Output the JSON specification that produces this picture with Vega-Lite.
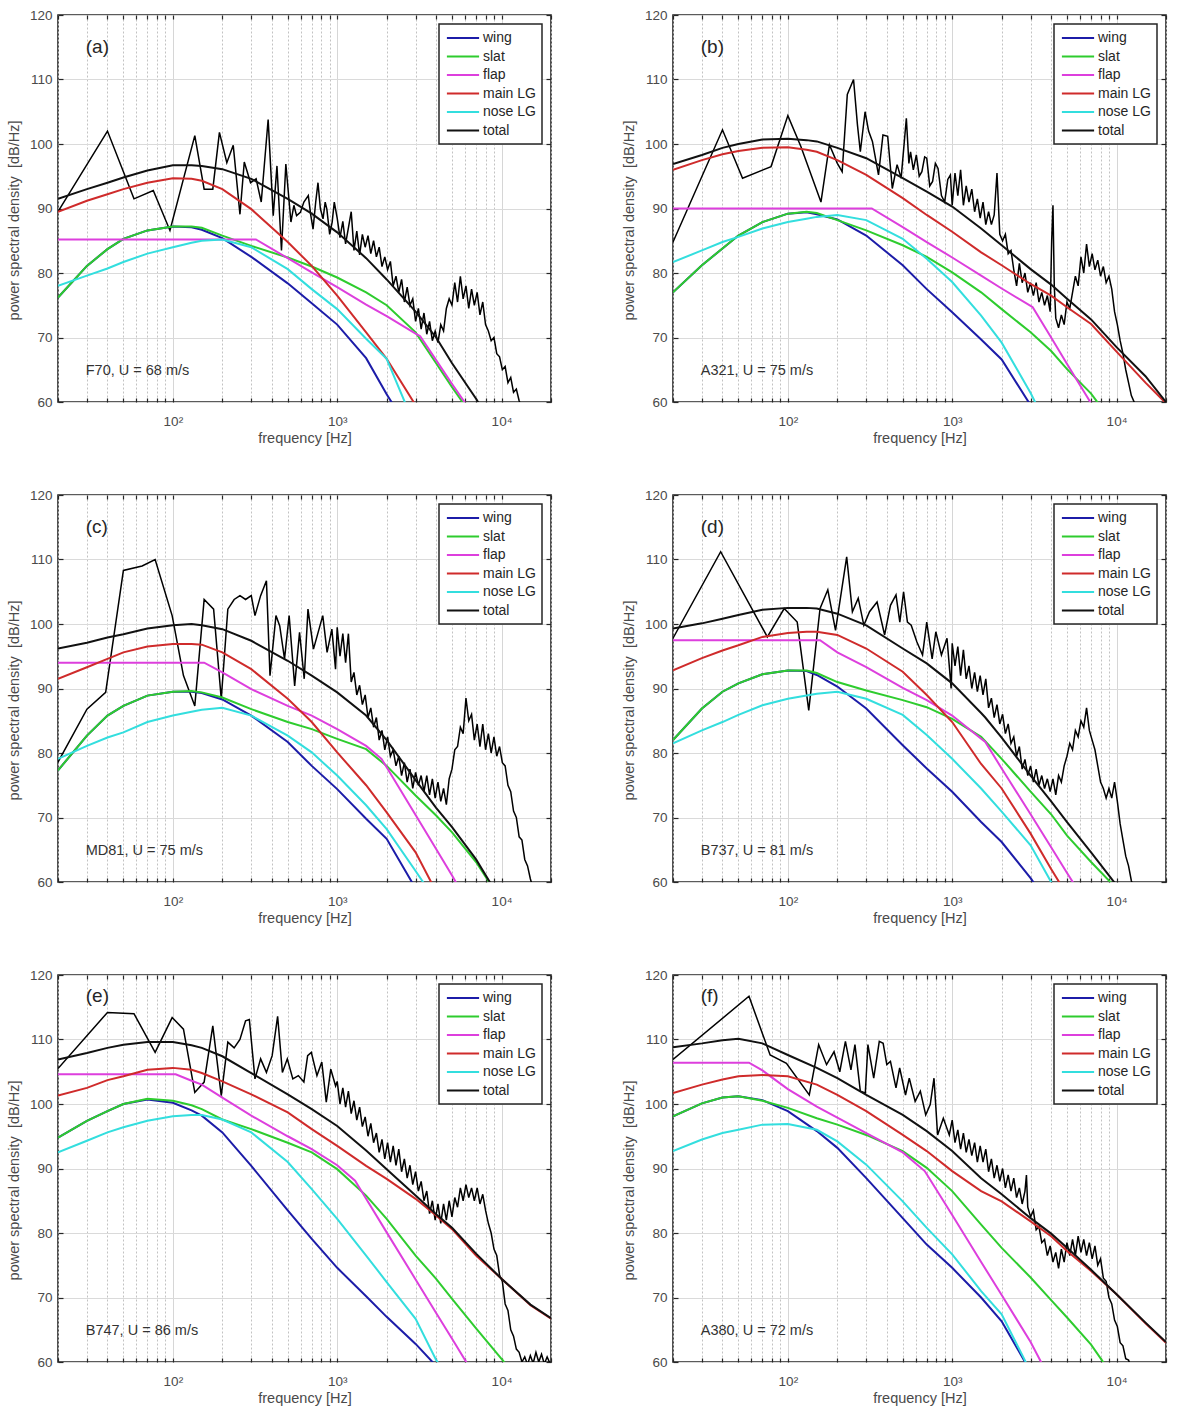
{
"$schema":"https://vega.github.io/schema/vega-lite/v6.json",
"padding":{"left":5,"top":7,"right":5,"bottom":5},
"background":"white",
"config":{
 "font":"Liberation Sans",
 "view":{"stroke":"#262626","strokeWidth":1.6},
 "axis":{"labelFont":"Liberation Sans","labelFontSize":13.5,"labelColor":"#4a4a4a","titleFont":"Liberation Sans","titleFontSize":14.5,"titleColor":"#4a4a4a","titleFontWeight":"normal","domain":false,"ticks":true,"tickColor":"#262626","tickWidth":1.2,"gridColor":"#dadada","gridWidth":1},
 "legend":{"orient":"top-right","offset":9,"strokeColor":"#262626","strokeWidth":1.5,"fillColor":"white","padding":6,"symbolType":"M-2.3,0H2.3","symbolSize":196,"symbolStrokeWidth":2,"symbolOffset":10,"labelOffset":12,"labelFont":"Liberation Sans","labelFontSize":14,"labelColor":"#262626","rowPadding":3.5,"titlePadding":0}
},
"datasets":{
"ma":[
{"f":20,"wing":76.2,"slat":76.2,"flap":85.2,"main LG":89.5,"nose LG":78,"total":91.5},
{"f":30,"wing":81.1,"slat":81.1,"flap":85.2,"main LG":91.2,"nose LG":79.6,"total":93},
{"f":40,"wing":83.7,"slat":83.7,"flap":85.2,"main LG":92.2,"nose LG":80.7,"total":94},
{"f":50,"wing":85.3,"slat":85.3,"flap":85.2,"main LG":93,"nose LG":81.7,"total":94.8},
{"f":70,"wing":86.6,"slat":86.6,"flap":85.2,"main LG":94,"nose LG":83,"total":95.9},
{"f":100,"wing":87.2,"slat":87.2,"flap":85.2,"main LG":94.7,"nose LG":84,"total":96.7},
{"f":130,"wing":87.1,"slat":87.2,"flap":85.2,"main LG":94.6,"nose LG":84.7,"total":96.7},
{"f":150,"wing":86.7,"slat":87,"flap":85.2,"main LG":94.3,"nose LG":85,"total":96.6},
{"f":200,"wing":85.4,"slat":85.8,"flap":85.2,"main LG":93,"nose LG":85.2,"total":96.1},
{"f":300,"wing":82.5,"slat":84.2,"flap":85.2,"main LG":89.9,"nose LG":84,"total":94.6},
{"f":320,"flap":85.2},
{"f":500,"wing":78.4,"slat":82.4,"flap":82.3,"main LG":84.8,"nose LG":80.6,"total":91.5},
{"f":700,"wing":75.3,"slat":81,"flap":80.1,"main LG":81.1,"nose LG":77.5,"total":89.2},
{"f":1000,"wing":72,"slat":79.3,"flap":77.8,"main LG":76.5,"nose LG":74.4,"total":86.3},
{"f":1500,"wing":66.8,"slat":77,"flap":75.1,"main LG":70.8,"nose LG":69.8,"total":82.3},
{"f":2000,"wing":61.2,"slat":75,"flap":73.3,"main LG":66.7,"nose LG":66.7,"total":79},
{"f":3000,"wing":54,"slat":70.8,"flap":70.6,"main LG":59.5,"nose LG":56,"total":74},
{"f":3200,"flap":70.2},
{"f":4000,"slat":66,"flap":66.5,"main LG":54,"total":70},
{"f":5000,"slat":62.3,"flap":62.8,"total":66},
{"f":7000,"slat":57,"flap":57.4,"total":60.5},
{"f":10000,"total":54}
],
"mb":[
{"f":20,"wing":77,"slat":77,"flap":90,"main LG":96,"nose LG":81.7,"total":96.9},
{"f":30,"wing":81.2,"slat":81.2,"flap":90,"main LG":97.5,"nose LG":83.5,"total":98.3},
{"f":40,"wing":83.8,"slat":83.8,"flap":90,"main LG":98.4,"nose LG":84.8,"total":99.4},
{"f":50,"wing":85.8,"slat":85.8,"flap":90,"main LG":98.9,"nose LG":85.6,"total":100},
{"f":70,"wing":87.9,"slat":87.9,"flap":90,"main LG":99.4,"nose LG":86.9,"total":100.7},
{"f":100,"wing":89.2,"slat":89.2,"flap":90,"main LG":99.5,"nose LG":87.9,"total":100.8},
{"f":130,"wing":89.4,"slat":89.5,"flap":90,"main LG":99.1,"nose LG":88.4,"total":100.6},
{"f":150,"wing":89.1,"slat":89.3,"flap":90,"main LG":98.8,"nose LG":88.7,"total":100.4},
{"f":200,"wing":88.3,"slat":88.2,"flap":90,"main LG":97.5,"nose LG":89,"total":99.4},
{"f":300,"wing":85.8,"slat":86.6,"flap":90,"main LG":95.2,"nose LG":88.2,"total":97.8},
{"f":324,"flap":90},
{"f":500,"wing":81.2,"slat":84.3,"flap":87.1,"main LG":91.6,"nose LG":85.3,"total":94.7},
{"f":700,"wing":77.5,"slat":82.5,"flap":84.8,"main LG":89,"nose LG":82.2,"total":92.6},
{"f":1000,"wing":73.9,"slat":80.1,"flap":82.4,"main LG":86.4,"nose LG":78.6,"total":90.3},
{"f":1500,"wing":69.7,"slat":77,"flap":79.6,"main LG":83.2,"nose LG":73.4,"total":86.9},
{"f":2000,"wing":66.6,"slat":74.4,"flap":77.6,"main LG":81.2,"nose LG":69.2,"total":84.3},
{"f":3000,"wing":59.5,"slat":70.8,"flap":74.9,"main LG":78.3,"nose LG":61.4,"total":80.6},
{"f":3090,"flap":74.7},
{"f":4000,"wing":55,"slat":67.9,"flap":70,"main LG":76.5,"nose LG":55,"total":78.2},
{"f":5000,"slat":65.1,"flap":65.9,"main LG":74.7,"total":76},
{"f":7000,"slat":61.3,"flap":59.8,"main LG":72.1,"total":72.8},
{"f":10000,"slat":56,"flap":53.5,"main LG":67.8,"total":68.5},
{"f":15000,"main LG":63,"total":64},
{"f":20000,"main LG":59.8,"total":60}
],
"mc":[
{"f":20,"wing":77.3,"slat":77.3,"flap":94,"main LG":91.5,"nose LG":79.1,"total":96.2},
{"f":30,"wing":82.7,"slat":82.7,"flap":94,"main LG":93.3,"nose LG":81.1,"total":97.1},
{"f":40,"wing":85.8,"slat":85.8,"flap":94,"main LG":94.6,"nose LG":82.4,"total":97.9},
{"f":50,"wing":87.3,"slat":87.3,"flap":94,"main LG":95.6,"nose LG":83.2,"total":98.4},
{"f":70,"wing":88.9,"slat":88.9,"flap":94,"main LG":96.5,"nose LG":84.8,"total":99.3},
{"f":100,"wing":89.5,"slat":89.5,"flap":94,"main LG":96.9,"nose LG":85.8,"total":99.8},
{"f":130,"wing":89.5,"slat":89.6,"flap":94,"main LG":96.9,"nose LG":86.4,"total":100},
{"f":150,"wing":89.3,"slat":89.4,"flap":94,"main LG":96.8,"nose LG":86.7,"total":99.8},
{"f":155,"flap":94},
{"f":200,"wing":88.3,"slat":88.6,"flap":92.5,"main LG":95.6,"nose LG":87,"total":99.2},
{"f":300,"wing":85.8,"slat":86.8,"flap":89.9,"main LG":93,"nose LG":85.8,"total":97.4},
{"f":500,"wing":81.7,"slat":84.8,"flap":87.3,"main LG":88.4,"nose LG":82.7,"total":94.3},
{"f":700,"wing":78,"slat":83.7,"flap":85.8,"main LG":84.8,"nose LG":80.1,"total":92},
{"f":1000,"wing":74.4,"slat":82.2,"flap":83.7,"main LG":80.1,"nose LG":76.5,"total":89.4},
{"f":1500,"wing":69.8,"slat":80.6,"flap":81.1,"main LG":75,"nose LG":71.9,"total":85.8},
{"f":1860,"flap":79.1},
{"f":2000,"wing":66.7,"slat":78,"flap":77.8,"main LG":70.8,"nose LG":68.2,"total":82},
{"f":3000,"wing":59,"slat":73.4,"flap":70.4,"main LG":64.6,"nose LG":61.7,"total":75.8},
{"f":4000,"wing":55,"slat":70.3,"flap":65.1,"main LG":58.5,"nose LG":57,"total":71.5},
{"f":5000,"slat":67.7,"flap":61,"total":68.5},
{"f":7000,"slat":63.1,"flap":54.5,"total":63.5},
{"f":10000,"slat":57,"total":57}
],
"md":[
{"f":20,"wing":82,"slat":82,"flap":97.5,"main LG":92.8,"nose LG":81.5,"total":99.3},
{"f":30,"wing":86.9,"slat":86.9,"flap":97.5,"main LG":94.7,"nose LG":83.5,"total":100.1},
{"f":40,"wing":89.5,"slat":89.5,"flap":97.5,"main LG":95.9,"nose LG":84.8,"total":100.8},
{"f":50,"wing":90.8,"slat":90.8,"flap":97.5,"main LG":96.7,"nose LG":85.9,"total":101.4},
{"f":70,"wing":92.2,"slat":92.2,"flap":97.5,"main LG":98,"nose LG":87.4,"total":102.2},
{"f":100,"wing":92.8,"slat":92.8,"flap":97.5,"main LG":98.6,"nose LG":88.4,"total":102.5},
{"f":130,"wing":92.7,"slat":92.8,"flap":97.5,"main LG":98.8,"nose LG":88.9,"total":102.5},
{"f":150,"wing":92.1,"slat":92.4,"flap":97.5,"main LG":98.8,"nose LG":89.2,"total":102.4},
{"f":157,"flap":97.5},
{"f":200,"wing":90.3,"slat":91,"flap":95.6,"main LG":98.3,"nose LG":89.5,"total":101.6},
{"f":300,"wing":86.9,"slat":89.7,"flap":93.3,"main LG":96.2,"nose LG":88.4,"total":99.8},
{"f":500,"wing":81.2,"slat":88.2,"flap":90.1,"main LG":92.6,"nose LG":85.9,"total":96.2},
{"f":700,"wing":77.6,"slat":87.1,"flap":88.2,"main LG":89,"nose LG":82.8,"total":93.9},
{"f":1000,"wing":74,"slat":85.3,"flap":85.8,"main LG":84.8,"nose LG":79.1,"total":90.8},
{"f":1500,"wing":69.3,"slat":82.5,"flap":82.2,"main LG":78.3,"nose LG":74.5,"total":86.2},
{"f":1590,"flap":81.7,"total":85.5},
{"f":2000,"wing":66.2,"slat":79.1,"flap":77.6,"main LG":74.5,"nose LG":70.9,"total":82.4},
{"f":3000,"wing":60.6,"slat":74,"flap":70.5,"main LG":67.5,"nose LG":65.7,"total":76.5},
{"f":4000,"wing":56,"slat":70.5,"flap":65.4,"main LG":62,"nose LG":60,"total":72.5},
{"f":5000,"slat":67.2,"flap":61.4,"main LG":58,"nose LG":55,"total":69.3},
{"f":7000,"slat":63.1,"flap":55.5,"total":64.6},
{"f":10000,"slat":59,"total":59.5}
],
"me":[
{"f":20,"wing":94.8,"slat":94.8,"flap":104.6,"main LG":101.3,"nose LG":92.5,"total":106.9},
{"f":30,"wing":97.4,"slat":97.4,"flap":104.6,"main LG":102.5,"nose LG":94.3,"total":107.9},
{"f":40,"wing":98.9,"slat":98.9,"flap":104.6,"main LG":103.7,"nose LG":95.6,"total":108.7},
{"f":50,"wing":100,"slat":100,"flap":104.6,"main LG":104.3,"nose LG":96.4,"total":109.2},
{"f":70,"wing":100.7,"slat":100.8,"flap":104.6,"main LG":105.3,"nose LG":97.4,"total":109.6},
{"f":100,"wing":100.2,"slat":100.5,"flap":104.6,"main LG":105.6,"nose LG":98.1,"total":109.6},
{"f":104,"flap":104.6},
{"f":130,"wing":99,"slat":99.8,"flap":103.6,"main LG":105.3,"nose LG":98.3,"total":109.1},
{"f":150,"wing":98.2,"slat":99.2,"flap":103,"main LG":104.8,"nose LG":98.3,"total":108.7},
{"f":200,"wing":95.6,"slat":97.6,"flap":101,"main LG":103.5,"nose LG":97.6,"total":107.4},
{"f":300,"wing":90.4,"slat":96.1,"flap":98.2,"main LG":101.5,"nose LG":95.6,"total":104.8},
{"f":500,"wing":83.5,"slat":94,"flap":95,"main LG":98.7,"nose LG":91,"total":101.5},
{"f":700,"wing":79.1,"slat":92.5,"flap":93,"main LG":96.1,"nose LG":86.8,"total":99.2},
{"f":1000,"wing":74.6,"slat":89.9,"flap":90.5,"main LG":93.5,"nose LG":82.2,"total":96.6},
{"f":1285,"flap":88.1},
{"f":1500,"wing":70.2,"slat":85.8,"flap":85.3,"main LG":90.4,"nose LG":76.5,"total":92.8},
{"f":2000,"wing":67,"slat":82.2,"flap":80.1,"main LG":88.4,"nose LG":72.4,"total":89.9},
{"f":3000,"wing":62.8,"slat":76.5,"flap":72.8,"main LG":85.3,"nose LG":66.7,"total":85.8},
{"f":4000,"wing":59.4,"slat":72.9,"flap":67.6,"main LG":82.7,"nose LG":60.3,"total":82.9},
{"f":5000,"wing":56,"slat":69.8,"flap":63.6,"main LG":80.6,"nose LG":57,"total":80.8},
{"f":7000,"slat":65.2,"flap":57.5,"main LG":76.5,"total":76.8},
{"f":10000,"slat":60.5,"main LG":72.9,"total":72.9},
{"f":15000,"slat":55,"main LG":68.8,"total":68.9},
{"f":20000,"main LG":66.7,"total":66.8}
],
"mf":[
{"f":20,"wing":98.1,"slat":98.1,"flap":106.4,"main LG":101.7,"nose LG":92.7,"total":108.8},
{"f":30,"wing":100.1,"slat":100.1,"flap":106.4,"main LG":103,"nose LG":94.5,"total":109.4},
{"f":40,"wing":101,"slat":101,"flap":106.4,"main LG":103.8,"nose LG":95.5,"total":109.9},
{"f":50,"wing":101.2,"slat":101.2,"flap":106.4,"main LG":104.3,"nose LG":96,"total":110.1},
{"f":58,"flap":106.4},
{"f":70,"wing":100.6,"slat":100.5,"flap":105.2,"main LG":104.5,"nose LG":96.8,"total":109.4},
{"f":100,"wing":98.9,"slat":99.4,"flap":102.3,"main LG":104.3,"nose LG":96.9,"total":107.6},
{"f":150,"wing":95.8,"slat":97.8,"flap":99.6,"main LG":103,"nose LG":96,"total":105.6},
{"f":200,"wing":93.2,"slat":96.8,"flap":97.9,"main LG":101.4,"nose LG":94.2,"total":104},
{"f":300,"wing":88.5,"slat":95.2,"flap":95.5,"main LG":98.9,"nose LG":90.6,"total":101.4},
{"f":500,"wing":82.3,"slat":92.7,"flap":92.5,"main LG":95.2,"nose LG":84.9,"total":98.3},
{"f":680,"flap":89.6},
{"f":700,"wing":78.2,"slat":90.1,"flap":89.1,"main LG":92.7,"nose LG":80.8,"total":95.8},
{"f":1000,"wing":74.6,"slat":86.5,"flap":82.8,"main LG":89.6,"nose LG":76.7,"total":92.7},
{"f":1500,"wing":70,"slat":81.3,"flap":75.5,"main LG":86.5,"nose LG":71,"total":88.5},
{"f":2000,"wing":66.3,"slat":77.7,"flap":70.4,"main LG":84.9,"nose LG":67.4,"total":86},
{"f":3000,"wing":58.5,"slat":73.1,"flap":63.1,"main LG":81.8,"nose LG":58.5,"total":82.3},
{"f":4000,"slat":69.6,"flap":57,"main LG":79.5,"total":79.9},
{"f":5000,"slat":66.9,"main LG":77.2,"total":77.7},
{"f":7000,"slat":62.7,"main LG":74.1,"total":74.3},
{"f":10000,"slat":57,"main LG":70.5,"total":70.5},
{"f":15000,"main LG":66,"total":66.1},
{"f":20000,"main LG":63,"total":63.1}
],
"xa":[
{"f":20,"v":89.5},{"f":40,"v":102},{"f":58,"v":91.5},{"f":76,"v":92.8},{"f":96,"v":86.6},{"f":136,"v":101.3},{"f":155,"v":93},{"f":175,"v":93},{"f":192,"v":101.8},{"f":213,"v":97.1},{"f":233,"v":99.8},{"f":256,"v":89.1},{"f":272,"v":97.2},{"f":297,"v":94},{"f":321,"v":94.6},{"f":345,"v":91},{"f":380,"v":103.8},{"f":408,"v":88.9},{"f":430,"v":96.6},{"f":458,"v":83.5},{"f":487,"v":96.9},{"f":523,"v":87.9},{"f":545,"v":90.5},{"f":566,"v":88.9},{"f":597,"v":89.4},{"f":627,"v":91},{"f":667,"v":92},{"f":690,"v":89},{"f":713,"v":86.8},{"f":740,"v":91},{"f":764,"v":94},{"f":790,"v":90},{"f":820,"v":88.4},{"f":845,"v":91},{"f":865,"v":89.9},{"f":900,"v":86},{"f":932,"v":87.9},{"f":960,"v":91},
{"f":1000,"v":88.5},{"f":1040,"v":85.5},{"f":1082,"v":88},{"f":1125,"v":84.5},{"f":1170,"v":87},{"f":1217,"v":89.5},{"f":1265,"v":83.5},{"f":1316,"v":86.5},{"f":1369,"v":82.8},{"f":1423,"v":86},{"f":1480,"v":84},{"f":1540,"v":85.8},{"f":1601,"v":83},{"f":1665,"v":85},{"f":1732,"v":82.5},{"f":1801,"v":84},{"f":1873,"v":81},{"f":1948,"v":82.5},{"f":2026,"v":80.5},{"f":2107,"v":81.8},{"f":2191,"v":78},{"f":2279,"v":79.5},{"f":2370,"v":77},{"f":2465,"v":79},{"f":2563,"v":75.5},{"f":2666,"v":77.8},{"f":2772,"v":75},{"f":2883,"v":76},{"f":2999,"v":72.5},{"f":3119,"v":74.5},{"f":3243,"v":71.3},{"f":3373,"v":73.8},{"f":3508,"v":70.5},{"f":3648,"v":72.5},{"f":3794,"v":69.5},{"f":3946,"v":71},{"f":4104,"v":69.2},{"f":4268,"v":72},{"f":4439,"v":71},{"f":4616,"v":74.5},{"f":4801,"v":76},{"f":4993,"v":75},{"f":5193,"v":78.5},{"f":5400,"v":75.5},{"f":5617,"v":79.5},{"f":5841,"v":76},{"f":6075,"v":78},{"f":6318,"v":74.5},{"f":6571,"v":77.5},{"f":6833,"v":75},{"f":7107,"v":77},{"f":7391,"v":73.5},{"f":7687,"v":75.5},{"f":7994,"v":72},{"f":8314,"v":71},{"f":8647,"v":69.5},{"f":8993,"v":70},{"f":9352,"v":67.5},{"f":9726,"v":67},{"f":10115,"v":65},{"f":10520,"v":65.5},{"f":10941,"v":63},{"f":11378,"v":63.8},{"f":11833,"v":61.5},{"f":12307,"v":62},{"f":12799,"v":60.2},{"f":13311,"v":59}
],
"xb":[
{"f":20,"v":84.8},{"f":40,"v":102.2},{"f":53,"v":94.7},{"f":79,"v":96.5},{"f":100,"v":104.4},{"f":120,"v":99.6},{"f":159,"v":91},{"f":179,"v":99.9},{"f":200,"v":97},{"f":214,"v":95.7},{"f":230,"v":107.7},{"f":251,"v":110},{"f":265,"v":103},{"f":276,"v":98.8},{"f":295,"v":105},{"f":310,"v":102},{"f":327,"v":100.4},{"f":356,"v":95.2},{"f":379,"v":101.4},{"f":405,"v":101.2},{"f":432,"v":93.1},{"f":462,"v":96.8},{"f":489,"v":94.7},{"f":526,"v":104},{"f":545,"v":97},{"f":558,"v":98.8},{"f":580,"v":96},{"f":605,"v":98.3},{"f":630,"v":95},{"f":654,"v":95.7},{"f":680,"v":98},{"f":700,"v":97.8},{"f":730,"v":93.5},{"f":760,"v":94.2},{"f":790,"v":97},{"f":820,"v":96.2},{"f":860,"v":92},{"f":900,"v":91},{"f":940,"v":94.5},{"f":975,"v":95.2},
{"f":1000,"v":90.5},{"f":1040,"v":95.5},{"f":1082,"v":92},{"f":1125,"v":96},{"f":1170,"v":90.5},{"f":1217,"v":93.5},{"f":1265,"v":91},{"f":1316,"v":93},{"f":1369,"v":89.5},{"f":1423,"v":91.5},{"f":1480,"v":88.5},{"f":1540,"v":91},{"f":1601,"v":87.5},{"f":1665,"v":89.5},{"f":1732,"v":87.5},{"f":1801,"v":89},{"f":1873,"v":95.5},{"f":1948,"v":86},{"f":2026,"v":85},{"f":2107,"v":86},{"f":2191,"v":83},{"f":2279,"v":83.5},{"f":2370,"v":80.5},{"f":2465,"v":78},{"f":2563,"v":81.5},{"f":2666,"v":78.5},{"f":2772,"v":80},{"f":2883,"v":77},{"f":2999,"v":78.5},{"f":3119,"v":76.5},{"f":3243,"v":78.5},{"f":3373,"v":75.5},{"f":3508,"v":77},{"f":3648,"v":75},{"f":3794,"v":76.5},{"f":3946,"v":74},{"f":4030,"v":85},{"f":4104,"v":90.5},{"f":4180,"v":78},{"f":4268,"v":73},{"f":4439,"v":71.5},{"f":4616,"v":73.5},{"f":4801,"v":72},{"f":4993,"v":75.5},{"f":5193,"v":74.5},{"f":5400,"v":77},{"f":5617,"v":79.5},{"f":5841,"v":78},{"f":6075,"v":82.5},{"f":6318,"v":80},{"f":6571,"v":84.5},{"f":6833,"v":81},{"f":7107,"v":83},{"f":7391,"v":80.5},{"f":7687,"v":82},{"f":7994,"v":79.5},{"f":8314,"v":81},{"f":8647,"v":78.5},{"f":8993,"v":79.5},{"f":9352,"v":77.5},{"f":9726,"v":74},{"f":10115,"v":72},{"f":10520,"v":69.5},{"f":10941,"v":67.5},{"f":11378,"v":65},{"f":11833,"v":63},{"f":12307,"v":61},{"f":12799,"v":60},{"f":13311,"v":58.5}
],
"xc":[
{"f":20,"v":78.6},{"f":30,"v":86.8},{"f":39,"v":89.4},{"f":50,"v":108.3},{"f":65,"v":109},{"f":78,"v":110},{"f":99,"v":101.3},{"f":116,"v":92},{"f":136,"v":87.3},{"f":155,"v":103.8},{"f":177,"v":102.3},{"f":197,"v":88.4},{"f":216,"v":102.3},{"f":236,"v":103.8},{"f":256,"v":104.4},{"f":277,"v":103.8},{"f":300,"v":104.4},{"f":316,"v":101.3},{"f":342,"v":104.4},{"f":371,"v":106.7},{"f":390,"v":92},{"f":424,"v":101.3},{"f":447,"v":99.7},{"f":478,"v":94.6},{"f":510,"v":101.3},{"f":551,"v":90.4},{"f":590,"v":98.7},{"f":630,"v":91.5},{"f":664,"v":102.3},{"f":717,"v":96.1},{"f":756,"v":98.2},{"f":817,"v":101.3},{"f":868,"v":95.6},{"f":928,"v":99.2},{"f":977,"v":93},
{"f":1000,"v":99.5},{"f":1040,"v":95},{"f":1082,"v":98.5},{"f":1125,"v":94},{"f":1170,"v":98.5},{"f":1217,"v":91},{"f":1265,"v":92.5},{"f":1316,"v":89},{"f":1369,"v":90.5},{"f":1423,"v":87.5},{"f":1480,"v":89},{"f":1540,"v":85.5},{"f":1601,"v":87},{"f":1665,"v":84},{"f":1732,"v":85.5},{"f":1801,"v":82},{"f":1873,"v":83.5},{"f":1948,"v":80.5},{"f":2026,"v":82.5},{"f":2107,"v":79.5},{"f":2191,"v":80.5},{"f":2279,"v":78},{"f":2370,"v":79.5},{"f":2465,"v":76.5},{"f":2563,"v":78.5},{"f":2666,"v":75.5},{"f":2772,"v":77.5},{"f":2883,"v":74.5},{"f":2999,"v":77},{"f":3119,"v":75},{"f":3243,"v":76.5},{"f":3373,"v":74},{"f":3508,"v":76.5},{"f":3648,"v":73.5},{"f":3794,"v":76},{"f":3946,"v":73},{"f":4104,"v":75.5},{"f":4268,"v":72.5},{"f":4439,"v":74.5},{"f":4616,"v":72},{"f":4801,"v":76},{"f":4993,"v":77.5},{"f":5193,"v":80.5},{"f":5400,"v":81},{"f":5617,"v":84},{"f":5841,"v":83},{"f":6075,"v":88.5},{"f":6318,"v":85},{"f":6571,"v":86},{"f":6833,"v":82},{"f":7107,"v":84.5},{"f":7391,"v":81},{"f":7687,"v":84.5},{"f":7994,"v":80.5},{"f":8314,"v":83},{"f":8647,"v":80},{"f":8993,"v":82.5},{"f":9352,"v":79.5},{"f":9726,"v":81},{"f":10115,"v":78.5},{"f":10520,"v":78},{"f":10941,"v":75},{"f":11378,"v":74},{"f":11833,"v":71},{"f":12307,"v":70},{"f":12799,"v":67},{"f":13311,"v":66.5},{"f":13843,"v":63.5},{"f":14397,"v":62.5},{"f":14973,"v":60.5},{"f":15572,"v":59}
],
"xd":[
{"f":20,"v":97.8},{"f":39,"v":111.2},{"f":75,"v":98},{"f":95,"v":102.4},{"f":114,"v":100.3},{"f":134,"v":86.6},{"f":157,"v":102.4},{"f":175,"v":105.3},{"f":195,"v":99},{"f":228,"v":110.4},{"f":247,"v":101.9},{"f":268,"v":104},{"f":290,"v":99.8},{"f":314,"v":101.9},{"f":349,"v":103.4},{"f":388,"v":98.3},{"f":421,"v":102.9},{"f":455,"v":104.5},{"f":480,"v":100.3},{"f":506,"v":105},{"f":534,"v":100.3},{"f":563,"v":99.8},{"f":610,"v":97.2},{"f":660,"v":95.2},{"f":700,"v":100.3},{"f":755,"v":94.6},{"f":795,"v":98.8},{"f":860,"v":95.2},{"f":930,"v":97.8},{"f":985,"v":90},
{"f":1000,"v":97},{"f":1040,"v":93.5},{"f":1082,"v":96.5},{"f":1125,"v":92},{"f":1170,"v":96},{"f":1217,"v":91.5},{"f":1265,"v":93.5},{"f":1316,"v":90},{"f":1369,"v":92.5},{"f":1423,"v":89.5},{"f":1480,"v":92},{"f":1540,"v":89},{"f":1601,"v":91.5},{"f":1665,"v":87},{"f":1732,"v":88.5},{"f":1801,"v":85.5},{"f":1873,"v":87.5},{"f":1948,"v":84.5},{"f":2026,"v":86},{"f":2107,"v":83},{"f":2191,"v":84.5},{"f":2279,"v":81.5},{"f":2370,"v":82.5},{"f":2465,"v":79.5},{"f":2563,"v":81},{"f":2666,"v":77.5},{"f":2772,"v":79},{"f":2883,"v":76.5},{"f":2999,"v":78},{"f":3119,"v":75.5},{"f":3243,"v":77.5},{"f":3373,"v":75},{"f":3508,"v":76.5},{"f":3648,"v":74.5},{"f":3794,"v":76},{"f":3946,"v":74},{"f":4104,"v":76},{"f":4268,"v":73.5},{"f":4439,"v":76.5},{"f":4616,"v":75.5},{"f":4801,"v":78},{"f":4993,"v":79.5},{"f":5193,"v":81.5},{"f":5400,"v":80.5},{"f":5617,"v":83.5},{"f":5841,"v":82.5},{"f":6075,"v":85},{"f":6318,"v":84},{"f":6571,"v":87},{"f":6833,"v":83.5},{"f":7107,"v":82},{"f":7391,"v":80.5},{"f":7687,"v":78},{"f":7994,"v":75.5},{"f":8314,"v":74.5},{"f":8647,"v":73},{"f":8993,"v":74.5},{"f":9352,"v":73},{"f":9726,"v":75.5},{"f":10115,"v":72.5},{"f":10520,"v":69},{"f":10941,"v":66.5},{"f":11378,"v":64},{"f":11833,"v":62.5},{"f":12307,"v":60.2},{"f":12799,"v":59}
],
"xe":[
{"f":20,"v":105.5},{"f":40,"v":114.2},{"f":58,"v":114},{"f":78,"v":108},{"f":99,"v":113.4},{"f":116,"v":111.6},{"f":136,"v":101.8},{"f":155,"v":103.4},{"f":175,"v":112.1},{"f":197,"v":101.3},{"f":216,"v":109.6},{"f":236,"v":108.7},{"f":256,"v":110},{"f":277,"v":112.9},{"f":292,"v":113.1},{"f":316,"v":103.9},{"f":342,"v":107},{"f":371,"v":104.9},{"f":402,"v":107.5},{"f":434,"v":113.6},{"f":464,"v":104.9},{"f":497,"v":107},{"f":537,"v":103.9},{"f":580,"v":104.4},{"f":627,"v":103.4},{"f":661,"v":107.5},{"f":696,"v":108},{"f":753,"v":104.4},{"f":806,"v":106.5},{"f":858,"v":100.3},{"f":914,"v":105.4},{"f":978,"v":102.8},
{"f":1000,"v":103.5},{"f":1040,"v":100},{"f":1082,"v":102.5},{"f":1125,"v":99.5},{"f":1170,"v":102},{"f":1217,"v":98.5},{"f":1265,"v":100.5},{"f":1316,"v":97.5},{"f":1369,"v":99.5},{"f":1423,"v":96.5},{"f":1480,"v":98},{"f":1540,"v":95},{"f":1601,"v":97},{"f":1665,"v":94},{"f":1732,"v":95.5},{"f":1801,"v":92.5},{"f":1873,"v":94.5},{"f":1948,"v":91.5},{"f":2026,"v":94},{"f":2107,"v":91},{"f":2191,"v":93.5},{"f":2279,"v":90.5},{"f":2370,"v":93},{"f":2465,"v":89.5},{"f":2563,"v":91.5},{"f":2666,"v":88.5},{"f":2772,"v":90.5},{"f":2883,"v":87.5},{"f":2999,"v":89.5},{"f":3119,"v":86.5},{"f":3243,"v":88},{"f":3373,"v":85},{"f":3508,"v":86.5},{"f":3648,"v":83},{"f":3794,"v":85},{"f":3946,"v":82},{"f":4104,"v":84.5},{"f":4268,"v":81.5},{"f":4439,"v":84.5},{"f":4616,"v":82},{"f":4801,"v":85},{"f":4993,"v":82.5},{"f":5193,"v":85.5},{"f":5400,"v":84},{"f":5617,"v":87},{"f":5841,"v":85},{"f":6075,"v":87.5},{"f":6318,"v":85.5},{"f":6571,"v":87},{"f":6833,"v":85},{"f":7107,"v":87},{"f":7391,"v":84.5},{"f":7687,"v":86},{"f":7994,"v":83.5},{"f":8314,"v":81.5},{"f":8647,"v":80},{"f":8993,"v":77.5},{"f":9352,"v":76.5},{"f":9726,"v":73.5},{"f":10115,"v":72.5},{"f":10520,"v":69},{"f":10941,"v":68},{"f":11378,"v":65},{"f":11833,"v":64},{"f":12307,"v":62},{"f":12799,"v":61.5},{"f":13311,"v":60},{"f":13843,"v":60.8},{"f":14397,"v":59.6},{"f":14973,"v":61},{"f":15572,"v":59.8},{"f":16195,"v":61.5},{"f":16843,"v":60},{"f":17516,"v":61.2},{"f":18217,"v":59.7},{"f":18946,"v":60.8},{"f":19704,"v":59.8}
],
"xf":[
{"f":20,"v":106.9},{"f":58,"v":116.7},{"f":78,"v":107.6},{"f":98,"v":106.3},{"f":135,"v":101.4},{"f":154,"v":109.2},{"f":172,"v":106.1},{"f":191,"v":108.1},{"f":207,"v":105},{"f":224,"v":109.7},{"f":242,"v":105.3},{"f":256,"v":109.2},{"f":276,"v":102},{"f":296,"v":101.7},{"f":307,"v":109.2},{"f":333,"v":104},{"f":360,"v":109.7},{"f":380,"v":109.4},{"f":400,"v":106.1},{"f":421,"v":106.6},{"f":455,"v":102.5},{"f":479,"v":105.6},{"f":520,"v":101.4},{"f":548,"v":104},{"f":595,"v":100.4},{"f":640,"v":102},{"f":690,"v":98.3},{"f":735,"v":99.9},{"f":775,"v":104},{"f":815,"v":95.2},{"f":883,"v":97.8},{"f":960,"v":95.2},
{"f":1000,"v":97.5},{"f":1040,"v":94},{"f":1082,"v":96},{"f":1125,"v":93},{"f":1170,"v":95.5},{"f":1217,"v":92.5},{"f":1265,"v":94.5},{"f":1316,"v":92},{"f":1369,"v":94},{"f":1423,"v":91},{"f":1480,"v":93.5},{"f":1540,"v":91},{"f":1601,"v":93},{"f":1665,"v":89.5},{"f":1732,"v":91.5},{"f":1801,"v":88.5},{"f":1873,"v":90.5},{"f":1948,"v":88},{"f":2026,"v":90},{"f":2107,"v":87},{"f":2191,"v":89},{"f":2279,"v":86.5},{"f":2370,"v":88.5},{"f":2465,"v":85.5},{"f":2563,"v":87},{"f":2666,"v":84.5},{"f":2772,"v":86.5},{"f":2830,"v":89},{"f":2883,"v":84},{"f":2999,"v":82.5},{"f":3119,"v":83.5},{"f":3243,"v":80.5},{"f":3373,"v":81},{"f":3508,"v":78.5},{"f":3648,"v":79},{"f":3794,"v":76.5},{"f":3946,"v":78},{"f":4104,"v":75.5},{"f":4268,"v":77},{"f":4439,"v":74.5},{"f":4616,"v":77.5},{"f":4801,"v":75.5},{"f":4993,"v":78.5},{"f":5193,"v":76.5},{"f":5400,"v":79},{"f":5617,"v":76.5},{"f":5841,"v":79.5},{"f":6075,"v":77},{"f":6318,"v":79},{"f":6571,"v":76.5},{"f":6833,"v":78.5},{"f":7107,"v":76},{"f":7391,"v":78},{"f":7687,"v":75},{"f":7994,"v":76},{"f":8314,"v":73},{"f":8647,"v":72.5},{"f":8993,"v":70},{"f":9352,"v":69},{"f":9726,"v":66.5},{"f":10115,"v":65.5},{"f":10520,"v":63},{"f":10941,"v":62.5},{"f":11378,"v":60.5},{"f":11833,"v":60.3},{"f":12307,"v":59}
]
},
"columns":2,
"bounds":"flush",
"spacing":{"row":93,"column":122},
"resolve":{"scale":{"color":"independent"},"legend":{"color":"independent"}},
"concat":[
{"width":493,"height":387,
 "resolve":{"axis":{"x":"independent","y":"independent"}},
 "layer":[
  {"data":{"name":"xa"},"mark":{"type":"line","color":"#000000","strokeWidth":1.5,"clip":true},
   "encoding":{
    "x":{"field":"f","type":"quantitative","title":"frequency [Hz]","scale":{"type":"log","domain":[20,20000],"nice":false},"axis":{"values":[20,30,40,50,60,70,80,90,100,200,300,400,500,600,700,800,900,1000,2000,3000,4000,5000,6000,7000,8000,9000,10000,20000],"labelExpr":"datum.value == 100 ? '10²' : datum.value == 1000 ? '10³' : datum.value == 10000 ? '10⁴' : ''","labelOverlap":false,"labelFlush":false,"tickSize":-4,"labelPadding":16,"titlePadding":4,"gridDash":{"condition":{"test":"datum.value == 100 || datum.value == 1000 || datum.value == 10000","value":[]},"value":[2,2]},"gridColor":{"condition":{"test":"datum.value == 100 || datum.value == 1000 || datum.value == 10000","value":"#d6d6d6"},"value":"#c2c2c2"}}},
    "y":{"field":"v","type":"quantitative","title":"power spectral density \u00a0[dB/Hz]","scale":{"domain":[60,120],"nice":false,"zero":false},"axis":{"values":[60,70,80,90,100,110,120],"tickSize":-5,"labelPadding":11,"titlePadding":8,"titleY":205}}}},
  {"data":{"name":"ma"},"transform":[{"fold":["wing","slat","flap","main LG","nose LG","total"],"as":["s","v"]}],"mark":{"type":"line","strokeWidth":2,"clip":true,"invalid":"filter"},
   "encoding":{
    "x":{"field":"f","type":"quantitative","scale":{"type":"log","domain":[20,20000],"nice":false},"axis":{"orient":"top","title":null,"labels":false,"grid":false,"values":[20,30,40,50,60,70,80,90,100,200,300,400,500,600,700,800,900,1000,2000,3000,4000,5000,6000,7000,8000,9000,10000,20000],"tickSize":-4}},
    "y":{"field":"v","type":"quantitative","scale":{"domain":[60,120],"nice":false,"zero":false},"axis":{"orient":"right","title":null,"labels":false,"grid":false,"values":[60,70,80,90,100,110,120],"tickSize":-5}},
    "color":{"field":"s","type":"nominal","scale":{"domain":["wing","slat","flap","main LG","nose LG","total"],"range":["#1c1ca8","#2ecc2e","#dd3fdd","#cf2b2b","#33dede","#111111"]},"legend":{"title":null}}}},
  {"data":{"values":[{"t":"(a)"}]},"mark":{"type":"text","align":"left","baseline":"middle","fontSize":19,"color":"#262626"},"encoding":{"x":{"datum":29.5,"type":"quantitative","axis":null},"y":{"datum":115,"type":"quantitative","axis":null},"text":{"field":"t"}}},
  {"data":{"values":[{"t":"F70, U = 68 m/s"}]},"mark":{"type":"text","align":"left","baseline":"middle","fontSize":14.5,"color":"#333333"},"encoding":{"x":{"datum":29.5,"type":"quantitative","axis":null},"y":{"datum":64.8,"type":"quantitative","axis":null},"text":{"field":"t"}}}
 ]},
{"width":493,"height":387,
 "resolve":{"axis":{"x":"independent","y":"independent"}},
 "layer":[
  {"data":{"name":"xb"},"mark":{"type":"line","color":"#000000","strokeWidth":1.5,"clip":true},
   "encoding":{
    "x":{"field":"f","type":"quantitative","title":"frequency [Hz]","scale":{"type":"log","domain":[20,20000],"nice":false},"axis":{"values":[20,30,40,50,60,70,80,90,100,200,300,400,500,600,700,800,900,1000,2000,3000,4000,5000,6000,7000,8000,9000,10000,20000],"labelExpr":"datum.value == 100 ? '10²' : datum.value == 1000 ? '10³' : datum.value == 10000 ? '10⁴' : ''","labelOverlap":false,"labelFlush":false,"tickSize":-4,"labelPadding":16,"titlePadding":4,"gridDash":{"condition":{"test":"datum.value == 100 || datum.value == 1000 || datum.value == 10000","value":[]},"value":[2,2]},"gridColor":{"condition":{"test":"datum.value == 100 || datum.value == 1000 || datum.value == 10000","value":"#d6d6d6"},"value":"#c2c2c2"}}},
    "y":{"field":"v","type":"quantitative","title":"power spectral density \u00a0[dB/Hz]","scale":{"domain":[60,120],"nice":false,"zero":false},"axis":{"values":[60,70,80,90,100,110,120],"tickSize":-5,"labelPadding":11,"titlePadding":8,"titleY":205}}}},
  {"data":{"name":"mb"},"transform":[{"fold":["wing","slat","flap","main LG","nose LG","total"],"as":["s","v"]}],"mark":{"type":"line","strokeWidth":2,"clip":true,"invalid":"filter"},
   "encoding":{
    "x":{"field":"f","type":"quantitative","scale":{"type":"log","domain":[20,20000],"nice":false},"axis":{"orient":"top","title":null,"labels":false,"grid":false,"values":[20,30,40,50,60,70,80,90,100,200,300,400,500,600,700,800,900,1000,2000,3000,4000,5000,6000,7000,8000,9000,10000,20000],"tickSize":-4}},
    "y":{"field":"v","type":"quantitative","scale":{"domain":[60,120],"nice":false,"zero":false},"axis":{"orient":"right","title":null,"labels":false,"grid":false,"values":[60,70,80,90,100,110,120],"tickSize":-5}},
    "color":{"field":"s","type":"nominal","scale":{"domain":["wing","slat","flap","main LG","nose LG","total"],"range":["#1c1ca8","#2ecc2e","#dd3fdd","#cf2b2b","#33dede","#111111"]},"legend":{"title":null}}}},
  {"data":{"values":[{"t":"(b)"}]},"mark":{"type":"text","align":"left","baseline":"middle","fontSize":19,"color":"#262626"},"encoding":{"x":{"datum":29.5,"type":"quantitative","axis":null},"y":{"datum":115,"type":"quantitative","axis":null},"text":{"field":"t"}}},
  {"data":{"values":[{"t":"A321, U = 75 m/s"}]},"mark":{"type":"text","align":"left","baseline":"middle","fontSize":14.5,"color":"#333333"},"encoding":{"x":{"datum":29.5,"type":"quantitative","axis":null},"y":{"datum":64.8,"type":"quantitative","axis":null},"text":{"field":"t"}}}
 ]},
{"width":493,"height":387,
 "resolve":{"axis":{"x":"independent","y":"independent"}},
 "layer":[
  {"data":{"name":"xc"},"mark":{"type":"line","color":"#000000","strokeWidth":1.5,"clip":true},
   "encoding":{
    "x":{"field":"f","type":"quantitative","title":"frequency [Hz]","scale":{"type":"log","domain":[20,20000],"nice":false},"axis":{"values":[20,30,40,50,60,70,80,90,100,200,300,400,500,600,700,800,900,1000,2000,3000,4000,5000,6000,7000,8000,9000,10000,20000],"labelExpr":"datum.value == 100 ? '10²' : datum.value == 1000 ? '10³' : datum.value == 10000 ? '10⁴' : ''","labelOverlap":false,"labelFlush":false,"tickSize":-4,"labelPadding":16,"titlePadding":4,"gridDash":{"condition":{"test":"datum.value == 100 || datum.value == 1000 || datum.value == 10000","value":[]},"value":[2,2]},"gridColor":{"condition":{"test":"datum.value == 100 || datum.value == 1000 || datum.value == 10000","value":"#d6d6d6"},"value":"#c2c2c2"}}},
    "y":{"field":"v","type":"quantitative","title":"power spectral density \u00a0[dB/Hz]","scale":{"domain":[60,120],"nice":false,"zero":false},"axis":{"values":[60,70,80,90,100,110,120],"tickSize":-5,"labelPadding":11,"titlePadding":8,"titleY":205}}}},
  {"data":{"name":"mc"},"transform":[{"fold":["wing","slat","flap","main LG","nose LG","total"],"as":["s","v"]}],"mark":{"type":"line","strokeWidth":2,"clip":true,"invalid":"filter"},
   "encoding":{
    "x":{"field":"f","type":"quantitative","scale":{"type":"log","domain":[20,20000],"nice":false},"axis":{"orient":"top","title":null,"labels":false,"grid":false,"values":[20,30,40,50,60,70,80,90,100,200,300,400,500,600,700,800,900,1000,2000,3000,4000,5000,6000,7000,8000,9000,10000,20000],"tickSize":-4}},
    "y":{"field":"v","type":"quantitative","scale":{"domain":[60,120],"nice":false,"zero":false},"axis":{"orient":"right","title":null,"labels":false,"grid":false,"values":[60,70,80,90,100,110,120],"tickSize":-5}},
    "color":{"field":"s","type":"nominal","scale":{"domain":["wing","slat","flap","main LG","nose LG","total"],"range":["#1c1ca8","#2ecc2e","#dd3fdd","#cf2b2b","#33dede","#111111"]},"legend":{"title":null}}}},
  {"data":{"values":[{"t":"(c)"}]},"mark":{"type":"text","align":"left","baseline":"middle","fontSize":19,"color":"#262626"},"encoding":{"x":{"datum":29.5,"type":"quantitative","axis":null},"y":{"datum":115,"type":"quantitative","axis":null},"text":{"field":"t"}}},
  {"data":{"values":[{"t":"MD81, U = 75 m/s"}]},"mark":{"type":"text","align":"left","baseline":"middle","fontSize":14.5,"color":"#333333"},"encoding":{"x":{"datum":29.5,"type":"quantitative","axis":null},"y":{"datum":64.8,"type":"quantitative","axis":null},"text":{"field":"t"}}}
 ]},
{"width":493,"height":387,
 "resolve":{"axis":{"x":"independent","y":"independent"}},
 "layer":[
  {"data":{"name":"xd"},"mark":{"type":"line","color":"#000000","strokeWidth":1.5,"clip":true},
   "encoding":{
    "x":{"field":"f","type":"quantitative","title":"frequency [Hz]","scale":{"type":"log","domain":[20,20000],"nice":false},"axis":{"values":[20,30,40,50,60,70,80,90,100,200,300,400,500,600,700,800,900,1000,2000,3000,4000,5000,6000,7000,8000,9000,10000,20000],"labelExpr":"datum.value == 100 ? '10²' : datum.value == 1000 ? '10³' : datum.value == 10000 ? '10⁴' : ''","labelOverlap":false,"labelFlush":false,"tickSize":-4,"labelPadding":16,"titlePadding":4,"gridDash":{"condition":{"test":"datum.value == 100 || datum.value == 1000 || datum.value == 10000","value":[]},"value":[2,2]},"gridColor":{"condition":{"test":"datum.value == 100 || datum.value == 1000 || datum.value == 10000","value":"#d6d6d6"},"value":"#c2c2c2"}}},
    "y":{"field":"v","type":"quantitative","title":"power spectral density \u00a0[dB/Hz]","scale":{"domain":[60,120],"nice":false,"zero":false},"axis":{"values":[60,70,80,90,100,110,120],"tickSize":-5,"labelPadding":11,"titlePadding":8,"titleY":205}}}},
  {"data":{"name":"md"},"transform":[{"fold":["wing","slat","flap","main LG","nose LG","total"],"as":["s","v"]}],"mark":{"type":"line","strokeWidth":2,"clip":true,"invalid":"filter"},
   "encoding":{
    "x":{"field":"f","type":"quantitative","scale":{"type":"log","domain":[20,20000],"nice":false},"axis":{"orient":"top","title":null,"labels":false,"grid":false,"values":[20,30,40,50,60,70,80,90,100,200,300,400,500,600,700,800,900,1000,2000,3000,4000,5000,6000,7000,8000,9000,10000,20000],"tickSize":-4}},
    "y":{"field":"v","type":"quantitative","scale":{"domain":[60,120],"nice":false,"zero":false},"axis":{"orient":"right","title":null,"labels":false,"grid":false,"values":[60,70,80,90,100,110,120],"tickSize":-5}},
    "color":{"field":"s","type":"nominal","scale":{"domain":["wing","slat","flap","main LG","nose LG","total"],"range":["#1c1ca8","#2ecc2e","#dd3fdd","#cf2b2b","#33dede","#111111"]},"legend":{"title":null}}}},
  {"data":{"values":[{"t":"(d)"}]},"mark":{"type":"text","align":"left","baseline":"middle","fontSize":19,"color":"#262626"},"encoding":{"x":{"datum":29.5,"type":"quantitative","axis":null},"y":{"datum":115,"type":"quantitative","axis":null},"text":{"field":"t"}}},
  {"data":{"values":[{"t":"B737, U = 81 m/s"}]},"mark":{"type":"text","align":"left","baseline":"middle","fontSize":14.5,"color":"#333333"},"encoding":{"x":{"datum":29.5,"type":"quantitative","axis":null},"y":{"datum":64.8,"type":"quantitative","axis":null},"text":{"field":"t"}}}
 ]},
{"width":493,"height":387,
 "resolve":{"axis":{"x":"independent","y":"independent"}},
 "layer":[
  {"data":{"name":"xe"},"mark":{"type":"line","color":"#000000","strokeWidth":1.5,"clip":true},
   "encoding":{
    "x":{"field":"f","type":"quantitative","title":"frequency [Hz]","scale":{"type":"log","domain":[20,20000],"nice":false},"axis":{"values":[20,30,40,50,60,70,80,90,100,200,300,400,500,600,700,800,900,1000,2000,3000,4000,5000,6000,7000,8000,9000,10000,20000],"labelExpr":"datum.value == 100 ? '10²' : datum.value == 1000 ? '10³' : datum.value == 10000 ? '10⁴' : ''","labelOverlap":false,"labelFlush":false,"tickSize":-4,"labelPadding":16,"titlePadding":4,"gridDash":{"condition":{"test":"datum.value == 100 || datum.value == 1000 || datum.value == 10000","value":[]},"value":[2,2]},"gridColor":{"condition":{"test":"datum.value == 100 || datum.value == 1000 || datum.value == 10000","value":"#d6d6d6"},"value":"#c2c2c2"}}},
    "y":{"field":"v","type":"quantitative","title":"power spectral density \u00a0[dB/Hz]","scale":{"domain":[60,120],"nice":false,"zero":false},"axis":{"values":[60,70,80,90,100,110,120],"tickSize":-5,"labelPadding":11,"titlePadding":8,"titleY":205}}}},
  {"data":{"name":"me"},"transform":[{"fold":["wing","slat","flap","main LG","nose LG","total"],"as":["s","v"]}],"mark":{"type":"line","strokeWidth":2,"clip":true,"invalid":"filter"},
   "encoding":{
    "x":{"field":"f","type":"quantitative","scale":{"type":"log","domain":[20,20000],"nice":false},"axis":{"orient":"top","title":null,"labels":false,"grid":false,"values":[20,30,40,50,60,70,80,90,100,200,300,400,500,600,700,800,900,1000,2000,3000,4000,5000,6000,7000,8000,9000,10000,20000],"tickSize":-4}},
    "y":{"field":"v","type":"quantitative","scale":{"domain":[60,120],"nice":false,"zero":false},"axis":{"orient":"right","title":null,"labels":false,"grid":false,"values":[60,70,80,90,100,110,120],"tickSize":-5}},
    "color":{"field":"s","type":"nominal","scale":{"domain":["wing","slat","flap","main LG","nose LG","total"],"range":["#1c1ca8","#2ecc2e","#dd3fdd","#cf2b2b","#33dede","#111111"]},"legend":{"title":null}}}},
  {"data":{"values":[{"t":"(e)"}]},"mark":{"type":"text","align":"left","baseline":"middle","fontSize":19,"color":"#262626"},"encoding":{"x":{"datum":29.5,"type":"quantitative","axis":null},"y":{"datum":116.8,"type":"quantitative","axis":null},"text":{"field":"t"}}},
  {"data":{"values":[{"t":"B747, U = 86 m/s"}]},"mark":{"type":"text","align":"left","baseline":"middle","fontSize":14.5,"color":"#333333"},"encoding":{"x":{"datum":29.5,"type":"quantitative","axis":null},"y":{"datum":64.8,"type":"quantitative","axis":null},"text":{"field":"t"}}}
 ]},
{"width":493,"height":387,
 "resolve":{"axis":{"x":"independent","y":"independent"}},
 "layer":[
  {"data":{"name":"xf"},"mark":{"type":"line","color":"#000000","strokeWidth":1.5,"clip":true},
   "encoding":{
    "x":{"field":"f","type":"quantitative","title":"frequency [Hz]","scale":{"type":"log","domain":[20,20000],"nice":false},"axis":{"values":[20,30,40,50,60,70,80,90,100,200,300,400,500,600,700,800,900,1000,2000,3000,4000,5000,6000,7000,8000,9000,10000,20000],"labelExpr":"datum.value == 100 ? '10²' : datum.value == 1000 ? '10³' : datum.value == 10000 ? '10⁴' : ''","labelOverlap":false,"labelFlush":false,"tickSize":-4,"labelPadding":16,"titlePadding":4,"gridDash":{"condition":{"test":"datum.value == 100 || datum.value == 1000 || datum.value == 10000","value":[]},"value":[2,2]},"gridColor":{"condition":{"test":"datum.value == 100 || datum.value == 1000 || datum.value == 10000","value":"#d6d6d6"},"value":"#c2c2c2"}}},
    "y":{"field":"v","type":"quantitative","title":"power spectral density \u00a0[dB/Hz]","scale":{"domain":[60,120],"nice":false,"zero":false},"axis":{"values":[60,70,80,90,100,110,120],"tickSize":-5,"labelPadding":11,"titlePadding":8,"titleY":205}}}},
  {"data":{"name":"mf"},"transform":[{"fold":["wing","slat","flap","main LG","nose LG","total"],"as":["s","v"]}],"mark":{"type":"line","strokeWidth":2,"clip":true,"invalid":"filter"},
   "encoding":{
    "x":{"field":"f","type":"quantitative","scale":{"type":"log","domain":[20,20000],"nice":false},"axis":{"orient":"top","title":null,"labels":false,"grid":false,"values":[20,30,40,50,60,70,80,90,100,200,300,400,500,600,700,800,900,1000,2000,3000,4000,5000,6000,7000,8000,9000,10000,20000],"tickSize":-4}},
    "y":{"field":"v","type":"quantitative","scale":{"domain":[60,120],"nice":false,"zero":false},"axis":{"orient":"right","title":null,"labels":false,"grid":false,"values":[60,70,80,90,100,110,120],"tickSize":-5}},
    "color":{"field":"s","type":"nominal","scale":{"domain":["wing","slat","flap","main LG","nose LG","total"],"range":["#1c1ca8","#2ecc2e","#dd3fdd","#cf2b2b","#33dede","#111111"]},"legend":{"title":null}}}},
  {"data":{"values":[{"t":"(f)"}]},"mark":{"type":"text","align":"left","baseline":"middle","fontSize":19,"color":"#262626"},"encoding":{"x":{"datum":29.5,"type":"quantitative","axis":null},"y":{"datum":116.8,"type":"quantitative","axis":null},"text":{"field":"t"}}},
  {"data":{"values":[{"t":"A380, U = 72 m/s"}]},"mark":{"type":"text","align":"left","baseline":"middle","fontSize":14.5,"color":"#333333"},"encoding":{"x":{"datum":29.5,"type":"quantitative","axis":null},"y":{"datum":64.8,"type":"quantitative","axis":null},"text":{"field":"t"}}}
 ]}
]
}
